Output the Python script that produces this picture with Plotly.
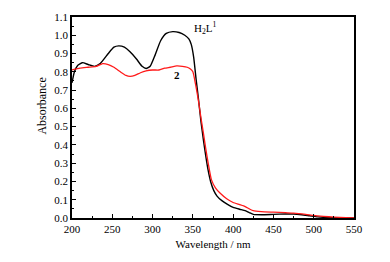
import plotly.graph_objects as go

wl_h2l1 = [200, 203, 207, 213, 220, 228, 235, 245, 252, 258, 265, 272, 280, 287, 292, 297, 303, 310, 317, 325,
           333, 340, 345, 348, 351, 354, 357, 360, 363, 366, 369, 372, 376, 380, 386, 393, 400, 408, 415, 420,
           425, 435, 450, 465, 475, 485, 495, 505, 515, 530, 550]
abs_h2l1 = [0.74, 0.80, 0.835, 0.85, 0.84, 0.83, 0.845, 0.90, 0.935, 0.942, 0.935, 0.91, 0.87, 0.83, 0.818, 0.83,
            0.89, 0.97, 1.01, 1.02, 1.015, 1.0, 0.98, 0.95, 0.88, 0.76, 0.65, 0.53, 0.43, 0.34, 0.26, 0.20, 0.15,
            0.12, 0.095, 0.075, 0.058, 0.048, 0.040, 0.030, 0.020, 0.018, 0.020, 0.022, 0.022, 0.018, 0.012,
            0.006, 0.003, 0.001, 0.0]

wl_2 = [200, 210, 220, 230, 238, 245, 252, 260, 267, 272, 278, 285, 292, 300, 308, 315, 322, 330, 337, 343, 347,
        350, 353, 357, 360, 363, 366, 369, 373, 378, 384, 392, 400, 408, 415, 420, 425, 435, 450, 465, 475, 490,
        500, 512, 525, 540, 550]
abs_2 = [0.81, 0.82, 0.825, 0.83, 0.845, 0.84, 0.825, 0.80, 0.78, 0.775, 0.78, 0.795, 0.805, 0.81, 0.81, 0.82,
         0.825, 0.832, 0.83, 0.825, 0.815, 0.80, 0.74, 0.64, 0.55, 0.467, 0.38, 0.30, 0.21, 0.165, 0.135, 0.105,
         0.085, 0.073, 0.062, 0.050, 0.040, 0.035, 0.032, 0.029, 0.027, 0.020, 0.014, 0.009, 0.005, 0.002, 0.0]

x_ticks = [200, 250, 300, 350, 400, 450, 500, 550]
y_ticks = [0.0, 0.1, 0.2, 0.3, 0.4, 0.5, 0.6, 0.7, 0.8, 0.9, 1.0, 1.1]

FONT = "Liberation Serif"

fig = go.Figure()
fig.add_trace(go.Scatter(x=wl_h2l1, y=abs_h2l1, mode="lines", line=dict(color="black", width=1.4, shape="spline", smoothing=0.5)))
fig.add_trace(go.Scatter(x=wl_2, y=abs_2, mode="lines", line=dict(color="#ff1a1a", width=1.3, shape="spline", smoothing=0.5)))

fig.add_annotation(x=349, y=1.04, text="H<sub>2</sub>L<sup>1</sup>", showarrow=False, xanchor="left",
                   font=dict(family=FONT, size=11, color="black"))
fig.add_annotation(x=330, y=0.785, text="<b>2</b>", showarrow=False,
                   font=dict(family=FONT, size=11, color="black"))
fig.add_annotation(x=-0.106, y=0.555, xref="paper", yref="paper", text="Absorbance", textangle=-90,
                   xanchor="center", yanchor="middle",
                   showarrow=False, font=dict(family=FONT, size=12, color="black"))

axis_common = dict(showline=True, linecolor="black", linewidth=1.5, mirror=True, ticks="inside",
                   ticklen=4, tickwidth=1.2, tickcolor="black", showgrid=False, zeroline=False,
                   tickfont=dict(family=FONT, size=11, color="black"))

fig.update_xaxes(range=[200, 550], tickvals=x_ticks, ticktext=[str(v) for v in x_ticks],
                 minor=dict(ticks="inside", ticklen=2.5, tickwidth=1, tickcolor="black", dtick=25),
                 title=dict(text="Wavelength / nm", font=dict(family=FONT, size=11, color="black"), standoff=6),
                 **axis_common)
fig.update_yaxes(range=[0, 1.1], tickvals=y_ticks, ticktext=[f"{v:.1f}" for v in y_ticks],
                 minor=dict(ticks="inside", ticklen=2.5, tickwidth=1, tickcolor="black", dtick=0.05),
                 **axis_common)

fig.update_layout(width=390, height=262, margin=dict(l=72, r=36, t=11, b=44),
                  paper_bgcolor="white", plot_bgcolor="white", showlegend=False)

fig.write_html("out.html", config={"displayModeBar": False},
               post_script="document.body.style.margin='0';")
